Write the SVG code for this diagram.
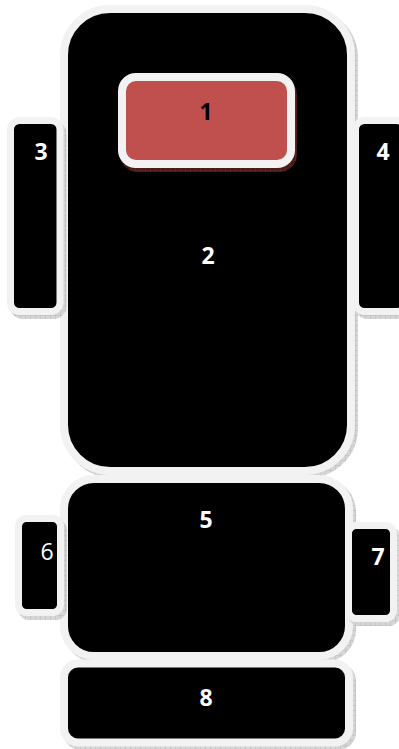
<svg xmlns="http://www.w3.org/2000/svg" width="399" height="749" viewBox="0 0 399 749">
  <defs>
    <pattern id="hatch" width="5" height="5" patternUnits="userSpaceOnUse">
      <rect width="5" height="5" fill="#d6d6d6"/>
      <path d="M0 0H5M0 0V5" stroke="#a8a8a8" stroke-width="0.6"/>
    </pattern>
    <pattern id="hatchRed" width="5" height="5" patternUnits="userSpaceOnUse">
      <rect width="5" height="5" fill="#4a1a19"/>
      <path d="M0 0H5M0 0V5" stroke="#7a3432" stroke-width="0.6"/>
    </pattern>
  </defs>
  <style>
    .box { fill: #000000; stroke: #f2f2f2; }
    .shadow { fill: url(#hatch); stroke: url(#hatch); }
    .shadowRed { fill: url(#hatchRed); stroke: url(#hatchRed); }
    .red { fill: #c0504d; stroke: #f2f2f2; stroke-width: 8; }
    .lbl { font-family: "Open Sans", "Liberation Sans", sans-serif; font-size: 23px; font-weight: bold; fill: #ffffff; text-anchor: middle; }
    .dark { fill: #000000; }
    .reg { font-weight: normal; }
  </style>
  <g id="connectors"></g>
  <g id="node2">
    <rect class="shadow" x="67" y="12" width="287" height="462" rx="46" stroke-width="8"/>
    <rect class="box" x="64" y="9" width="287" height="462" rx="46" stroke-width="8"/>
    <text class="lbl" x="208" y="264">2</text>
  </g>
  <g id="node1">
    <rect class="shadowRed" x="124" y="81" width="169" height="87" rx="14" stroke-width="8"/>
    <rect class="red" x="122" y="77" width="169" height="87" rx="14"/>
    <text class="lbl dark" x="206" y="120">1</text>
  </g>
  <g id="node3">
    <rect class="shadow" x="13.5" y="124.5" width="49.5" height="191" rx="9" stroke-width="7"/>
    <rect class="box" x="10.5" y="120.5" width="49.5" height="191" rx="9" stroke-width="7"/>
    <text class="lbl" x="41" y="160">3</text>
  </g>
  <g id="node4">
    <rect class="shadow" x="358.5" y="124.5" width="50" height="191" rx="9" stroke-width="7"/>
    <rect class="box" x="355.5" y="120.5" width="50" height="191" rx="9" stroke-width="7"/>
    <text class="lbl" x="383" y="160">4</text>
  </g>
  <g id="node5">
    <rect class="shadow" x="67" y="482" width="285" height="177" rx="30" stroke-width="8"/>
    <rect class="box" x="64" y="479" width="285" height="177" rx="30" stroke-width="8"/>
    <text class="lbl" x="206" y="528">5</text>
  </g>
  <g id="node6">
    <rect class="shadow" x="21.5" y="522.5" width="42" height="94" rx="8" stroke-width="7"/>
    <rect class="box" x="18.5" y="518.5" width="42" height="94" rx="8" stroke-width="7"/>
    <text class="lbl reg" x="47" y="560">6</text>
  </g>
  <g id="node7">
    <rect class="shadow" x="351.5" y="529.5" width="45" height="93" rx="8" stroke-width="7"/>
    <rect class="box" x="348.5" y="525.5" width="45" height="93" rx="8" stroke-width="7"/>
    <text class="lbl" x="378" y="565">7</text>
  </g>
  <g id="node8">
    <rect class="shadow" x="67" y="667" width="285" height="79" rx="14" stroke-width="8"/>
    <rect class="box" x="64" y="663.5" width="285" height="79" rx="14" stroke-width="8"/>
    <text class="lbl" x="206" y="706">8</text>
  </g>
</svg>
